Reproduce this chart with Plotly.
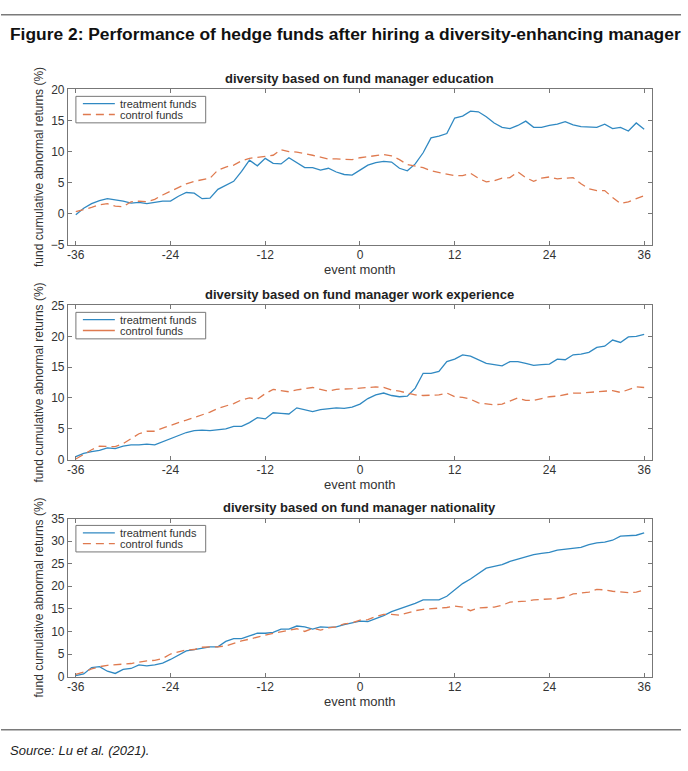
import plotly.graph_objects as go

W, H = 688, 771

months = list(range(-36, 37))

edu_treatment = [-0.2, 0.85, 1.6, 2.1, 2.4, 2.25, 2.0, 1.7, 1.8, 1.6, 1.8, 2.0, 2.0, 2.8, 3.4, 3.3,
                 2.4, 2.5, 3.9, 4.5, 5.2, 6.8, 8.6, 7.7, 8.9, 8.1, 8.0, 9.0, 8.2, 7.4, 7.4, 7.0,
                 7.3, 6.7, 6.3, 6.2, 7.0, 7.8, 8.2, 8.4, 8.3, 7.3, 6.9, 8.0, 9.8, 12.2, 12.5, 12.9,
                 15.4, 15.7, 16.5, 16.4, 15.6, 14.6, 13.9, 13.7, 14.2, 14.9, 13.9, 13.9, 14.2, 14.4,
                 14.8, 14.3, 14.0, 13.9, 13.9, 14.4, 13.7, 13.9, 13.3, 14.6, 13.6, 13.3]
edu_control = [0.3, 0.6, 1.0, 1.4, 1.6, 1.2, 1.1, 1.9, 2.0, 1.9, 2.3, 3.0, 3.6, 4.2, 4.8, 5.2,
               5.5, 5.7, 7.0, 7.5, 7.8, 8.5, 8.9, 9.1, 9.2, 9.4, 10.3, 10.0, 9.9, 9.7, 9.4, 9.1,
               8.8, 8.8, 8.7, 8.7, 9.0, 9.2, 9.4, 9.5, 9.3, 8.7, 7.9, 7.7, 7.4, 6.9, 6.6, 6.4,
               6.1, 6.1, 6.5, 5.7, 5.1, 5.3, 5.7, 5.8, 6.7, 5.8, 5.2, 5.7, 5.9, 5.6, 5.7, 5.8,
               4.8, 4.0, 3.7, 3.7, 2.6, 1.6, 1.9, 2.4, 2.9]

work_treatment = [0.5, 1.0, 1.3, 1.5, 1.9, 1.8, 2.2, 2.4, 2.4, 2.5, 2.4, 2.9, 3.3, 3.8, 4.4, 4.7,
                  4.8, 4.7, 4.8, 5.0, 5.4, 5.4, 6.0, 6.8, 6.6, 7.6, 7.5, 7.4, 8.4, 8.1, 7.8, 8.1,
                  8.2, 8.4, 8.3, 8.5, 9.0, 9.9, 10.5, 10.8, 10.4, 10.2, 10.3, 11.6, 14.0, 14.0, 14.3, 15.9,
                  16.3, 17.0, 16.8, 16.2, 15.6, 15.4, 15.2, 15.9, 15.9, 15.6, 15.3, 15.4, 15.5, 16.3,
                  16.2, 17.0, 17.1, 17.4, 18.2, 18.4, 19.4, 19.0, 19.9, 20.0, 20.3]
work_control = [0.1, 0.9, 1.6, 2.2, 2.2, 2.1, 2.6, 3.4, 4.2, 4.6, 4.6, 5.1, 5.6, 6.0, 6.4, 6.8,
                7.2, 7.7, 8.3, 8.7, 9.1, 9.7, 10.0, 9.8, 10.7, 11.4, 11.2, 11.0, 11.3, 11.5, 11.7, 11.4,
                11.1, 11.4, 11.4, 11.5, 11.6, 11.7, 11.8, 11.7, 11.3, 11.1, 10.8, 10.5, 10.4, 10.4, 10.5, 10.8,
                10.2, 10.1, 9.8, 9.2, 9.0, 8.9, 9.0, 9.5, 10.0, 9.6, 9.6, 9.9, 10.2, 10.3, 10.6, 10.8,
                10.8, 10.9, 11.0, 11.2, 11.2, 10.9, 11.4, 11.8, 11.7]

nat_treatment = [0.2, 0.6, 2.0, 2.2, 1.2, 0.7, 1.6, 1.8, 2.6, 2.4, 2.6, 3.0, 3.8, 4.8, 5.7, 6.0,
                 6.3, 6.6, 6.6, 7.8, 8.4, 8.4, 9.0, 9.6, 9.6, 9.8, 10.5, 10.5, 11.2, 11.0, 10.5, 11.0,
                 10.9, 11.0, 11.5, 11.9, 12.3, 12.2, 12.8, 13.5, 14.4, 15.0, 15.5, 16.2, 17.0, 17.0, 17.0, 17.8,
                 19.3, 20.6, 21.6, 22.8, 24.0, 24.4, 24.8, 25.5, 26.0, 26.6, 27.0, 27.3, 27.5, 28.0,
                 28.2, 28.4, 28.6, 29.2, 29.6, 29.8, 30.2, 31.1, 31.2, 31.3, 31.8]
nat_control = [0.5, 1.0, 1.7, 2.2, 2.5, 2.6, 2.8, 2.9, 3.2, 3.5, 3.6, 4.0, 5.0, 5.5, 5.9, 6.0,
               6.5, 6.6, 6.6, 6.8, 7.4, 7.9, 8.3, 8.8, 9.2, 9.6, 9.9, 10.3, 10.6, 10.0, 10.7, 10.3,
               10.8, 11.0, 11.7, 11.9, 12.5, 12.6, 13.3, 13.8, 13.8, 13.6, 14.1, 14.6, 14.9, 15.0, 15.2, 15.3,
               15.6, 15.4, 14.6, 15.2, 15.3, 15.4, 15.8, 16.5, 16.6, 16.7, 17.0, 17.1, 17.1, 17.3,
               17.6, 18.3, 18.5, 18.7, 19.3, 19.2, 18.9, 18.7, 18.6, 18.7, 19.2]

panel_titles = ["diversity based on fund manager education",
                "diversity based on fund manager work experience",
                "diversity based on fund manager nationality"]
y_ranges = [[-5, 20], [0, 25], [0, 35]]
x_ticks = [-36, -24, -12, 0, 12, 24, 36]
x_ticktext = ["-36", "-24", "-12", "0", "12", "24", "36"]
series_names = ["treatment funds", "control funds"]
legend_control_dashed = [True, False, True]

BLUE = "#3089c2"
ORANGE = "#df7a4f"
AXC = "#777777"
TXT = "#333333"
FONT = "Liberation Sans, Arial, sans-serif"
DASH = "8px,5px"


def px(x):
    return x / W


def py(y):
    return 1 - y / H


# panel pixel boxes
X0, X1 = 67, 652
boxes = [(84, 242), (304, 461), (521, 682)]

fig = go.Figure()
data = [(edu_treatment, edu_control), (work_treatment, work_control), (nat_treatment, nat_control)]
for i, (tr, ct) in enumerate(data):
    k = "" if i == 0 else str(i + 1)
    fig.add_trace(go.Scatter(x=months, y=tr, mode="lines", name=series_names[0],
                             line=dict(color=BLUE, width=1.3), xaxis="x" + k, yaxis="y" + k,
                             showlegend=False))
    fig.add_trace(go.Scatter(x=months, y=ct, mode="lines", name=series_names[1],
                             line=dict(color=ORANGE, width=1.3, dash=DASH),
                             xaxis="x" + k, yaxis="y" + k, showlegend=False))

layout = dict(width=W, height=H, margin=dict(l=0, r=0, t=0, b=0),
              paper_bgcolor="white", plot_bgcolor="white", showlegend=False,
              font=dict(family=FONT, color=TXT, size=12))
annotations = []
shapes = []
for i, (top, bot) in enumerate(boxes):
    k = "" if i == 0 else str(i + 1)
    layout["xaxis" + k] = dict(domain=[px(X0), px(X1)], range=[-37, 37], tickvals=x_ticks,
                               ticktext=x_ticktext,
                               ticks="inside", ticklen=4, tickcolor=AXC, showline=True,
                               linecolor=AXC, linewidth=1, mirror="ticks", showgrid=False,
                               zeroline=False, anchor="y" + k, ticklabelstandoff=-1,
                               tickfont=dict(size=12, color=TXT))
    layout["yaxis" + k] = dict(domain=[py(bot), py(top)], range=y_ranges[i], dtick=5,
                               ticks="inside", ticklen=4, tickcolor=AXC, showline=True,
                               linecolor=AXC, linewidth=1, mirror="ticks", showgrid=False,
                               zeroline=False, anchor="x" + k,
                               tickfont=dict(size=12, color=TXT))
    # legend box (MATLAB-style compact legend)
    lt, lb = top + 7, top + 34
    shapes.append(dict(type="rect", xref="paper", yref="paper", x0=px(75), x1=px(205),
                       y0=py(lb), y1=py(lt), line=dict(color=AXC, width=1), fillcolor="white",
                       layer="above"))
    rows = [top + 14.5, top + 25.5]
    styles = [dict(color=BLUE, width=1.3),
              dict(color=ORANGE, width=1.3, dash=DASH if legend_control_dashed[i] else "solid")]
    for r, name, st in zip(rows, series_names, styles):
        shapes.append(dict(type="line", xref="paper", yref="paper", x0=px(82), x1=px(114),
                           y0=py(r), y1=py(r), line=st, layer="above"))
        annotations.append(dict(text=name, x=px(117), y=py(r), xref="paper", yref="paper",
                                showarrow=False, xanchor="left", yanchor="middle",
                                font=dict(size=11, color=TXT)))
    annotations.append(dict(text="<b>" + panel_titles[i] + "</b>", x=px((X0 + X1) / 2),
                            y=py(top - 11), xref="paper", yref="paper", showarrow=False,
                            font=dict(size=13, color="#222222"), xanchor="center",
                            yanchor="middle"))
    annotations.append(dict(text="event month", x=px((X0 + X1) / 2), y=py(bot + 25),
                            xref="paper", yref="paper", showarrow=False,
                            font=dict(size=13, color=TXT), xanchor="center", yanchor="middle"))
    annotations.append(dict(text="fund cumulative abnormal returns (%)", x=px(38),
                            y=py((top + bot) / 2), xref="paper", yref="paper", showarrow=False,
                            textangle=-90, font=dict(size=12, color=TXT),
                            xanchor="center", yanchor="middle"))

annotations.append(dict(text="<b>Figure 2: Performance of hedge funds after hiring a diversity-enhancing manager</b>",
                        x=px(7), y=py(27), xref="paper", yref="paper", showarrow=False,
                        xanchor="left", yanchor="middle", font=dict(size=17.4, color="#111111")))
annotations.append(dict(text="<i>Source: Lu et al. (2021).</i>", x=px(7), y=py(757),
                        xref="paper", yref="paper", showarrow=False, xanchor="left",
                        yanchor="middle", font=dict(size=13, color="#222222")))
layout["annotations"] = annotations
shapes += [
    dict(type="line", xref="paper", yref="paper", x0=0, x1=px(681), y0=py(8), y1=py(8),
         line=dict(color="#7a7a7a", width=1.5)),
    dict(type="line", xref="paper", yref="paper", x0=0, x1=px(681), y0=py(736), y1=py(736),
         line=dict(color="#7a7a7a", width=1.5)),
]
layout["shapes"] = shapes
fig.update_layout(**layout)
fig.write_html("out.html")
